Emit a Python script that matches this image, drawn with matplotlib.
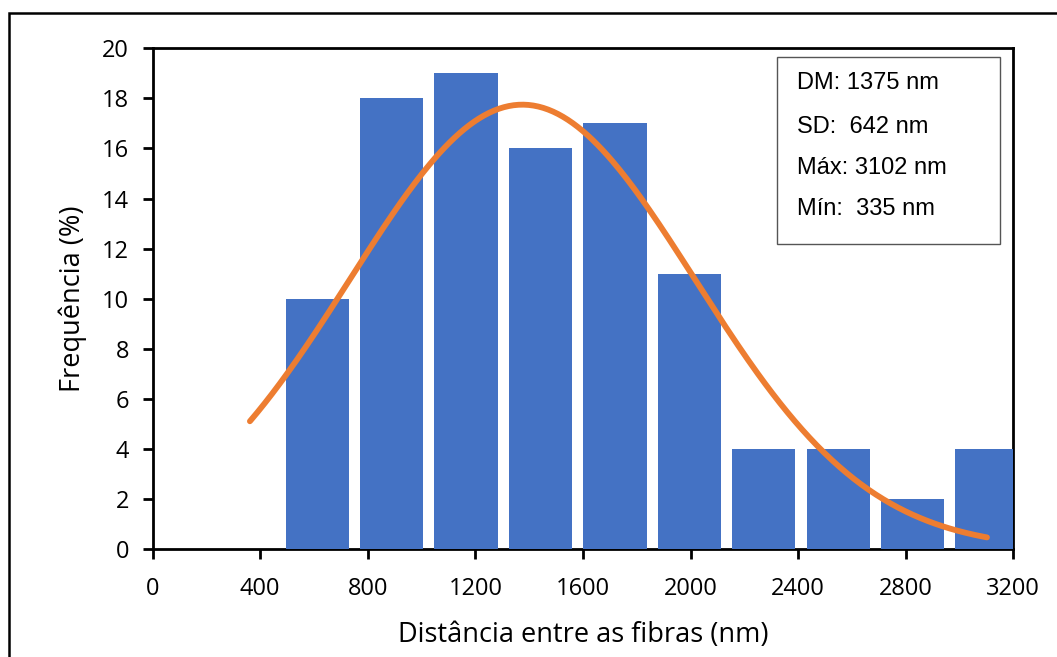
import numpy as np
import matplotlib
matplotlib.use("Agg")
import matplotlib.pyplot as plt
from matplotlib.patches import Rectangle

# histograma da distância entre fibras
bin_centers = [612, 889, 1165, 1442, 1719, 1995, 2272, 2549, 2825, 3102]
freq = [10, 18, 19, 16, 17, 11, 4, 4, 2, 4]

# estatísticas da amostra (nm)
dm = 1375
sd = 642
d_max = 3102
d_min = 335
curve_start = 362
curve_peak = 17.75

stats_lines = ["DM: 1375 nm", "SD:  642 nm", "Máx: 3102 nm", "Mín:  335 nm"]

x_ticks = [0, 400, 800, 1200, 1600, 2000, 2400, 2800, 3200]
y_ticks = [0, 2, 4, 6, 8, 10, 12, 14, 16, 18, 20]

plt.rcParams['font.family'] = ['Open Sans', 'DejaVu Sans']

fig = plt.figure(figsize=(10.57, 6.57), dpi=100)
ax = fig.add_axes([0.1443, 0.1639, 0.8144, 0.7626])

ax.bar(bin_centers, freq, width=235, color='#4472C4', zorder=3)

# curva normal ajustada (DM, SD)
xs = np.linspace(curve_start, d_max, 300)
ys = curve_peak * np.exp(-0.5 * ((xs - dm) / sd) ** 2)
ax.plot(xs, ys, color='#ED7D31', lw=4.2, solid_capstyle='round', zorder=4)

ax.set_xlim(0, 3200)
ax.set_ylim(0, 20)
ax.set_xticks(x_ticks)
ax.set_yticks(y_ticks)
for s in ax.spines.values():
    s.set_linewidth(2)
    s.set_color('black')
ax.tick_params(axis='both', direction='out', length=7, width=2, labelsize=17)
ax.tick_params(axis='y', pad=10)
ax.tick_params(axis='x', pad=13)

ax.set_xlabel('Distância entre as fibras (nm)', fontsize=19.5, labelpad=14)
ax.set_ylabel('Frequência (%)', fontsize=19.5, labelpad=11)

# caixa com as estatísticas
ax.add_patch(Rectangle((0.7255, 0.6094), 0.2591, 0.3732, transform=ax.transAxes,
                       facecolor='white', edgecolor='#555555', lw=1, zorder=5))
line_y = [83, 127, 168, 209]
for txt, yp in zip(stats_lines, line_y):
    ax.text(0.7487, (549.3 - yp) / 501, txt, transform=ax.transAxes,
            fontsize=17, family=['Liberation Sans', 'DejaVu Sans'],
            va='center', ha='left', zorder=6)

# moldura externa
fig.patches.append(Rectangle((9 / 1057, -0.05), 1.2, 1 - 13 / 657 + 0.05,
                             transform=fig.transFigure, fill=False,
                             edgecolor='black', lw=1.8))

fig.savefig('out.png', dpi=100)
